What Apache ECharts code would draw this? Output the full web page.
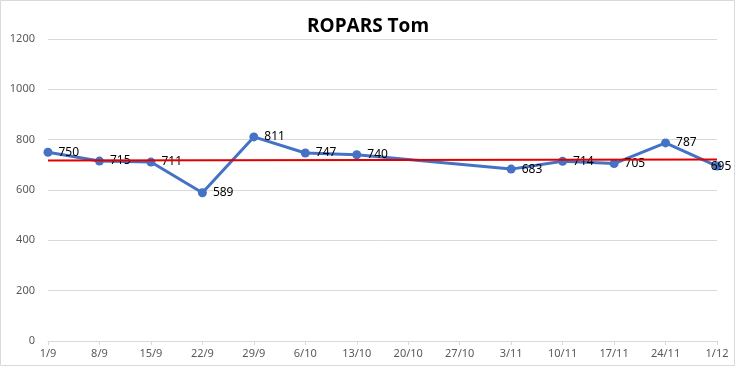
<!DOCTYPE html>
<html><head><meta charset="utf-8">
<script src="https://cdn.jsdelivr.net/npm/echarts@6/dist/echarts.min.js"></script>
<style>html,body{margin:0;padding:0;background:#fff}#c{width:736px;height:367px}</style>
</head><body><div id="c"></div>
<script>
var categories = ['1/9','8/9','15/9','22/9','29/9','6/10','13/10','20/10','27/10','3/11','10/11','17/11','24/11','1/12'];
var scores = [750, 715, 711, 589, 811, 747, 740, null, null, 683, 714, 705, 787, 695];
var trend = [717, null, null, null, null, null, null, null, null, null, null, null, null, 721];
var yTicks = {min: 0, max: 1200, interval: 200};

var chart = echarts.init(document.getElementById('c'));
var scoreData = scores.map(function (v, i) {
  if (i === scores.length - 1) return {value: v, label: {position: 'inside', offset: [4, 0]}};
  return v;
});
chart.setOption({
  animation: false,
  title: {text: 'ROPARS Tom', left: 'center', top: 12,
    textStyle: {fontFamily: 'Open Sans', fontWeight: 'bold', fontSize: 19, color: '#000'}},
  grid: {left: 48, right: 19, top: 39, bottom: 26},
  xAxis: {type: 'category', data: categories, boundaryGap: false,
    axisLine: {lineStyle: {color: '#d9d9d9'}},
    axisTick: {show: true, alignWithLabel: true, length: 4, lineStyle: {color: '#d9d9d9'}},
    axisLabel: {color: '#595959', fontFamily: 'Noto Sans', fontSize: 11, margin: 7, interval: 0}},
  yAxis: {type: 'value', min: yTicks.min, max: yTicks.max, interval: yTicks.interval,
    axisLine: {show: false}, axisTick: {show: false},
    splitLine: {lineStyle: {color: '#d9d9d9'}},
    axisLabel: {color: '#595959', fontFamily: 'Noto Sans', fontSize: 11, margin: 13,
      formatter: function (v) { return String(v); }}},
  graphic: [{type: 'rect', shape: {x: 0.5, y: 0.5, width: 734, height: 365},
    style: {fill: 'none', stroke: '#d9d9d9', lineWidth: 1}, silent: true}],
  series: [
    {type: 'line', data: trend, connectNulls: true, showSymbol: false, symbol: 'none',
      lineStyle: {color: '#e00000', width: 2}, z: 3},
    {type: 'line', data: scoreData, connectNulls: true, symbol: 'circle', symbolSize: 9,
      itemStyle: {color: '#4472c4'}, lineStyle: {color: '#4472c4', width: 3}, z: 2,
      label: {show: true, position: 'right', distance: 6, color: '#000',
        fontFamily: 'Noto Sans', fontSize: 12}}
  ]
});
</script></body></html>
